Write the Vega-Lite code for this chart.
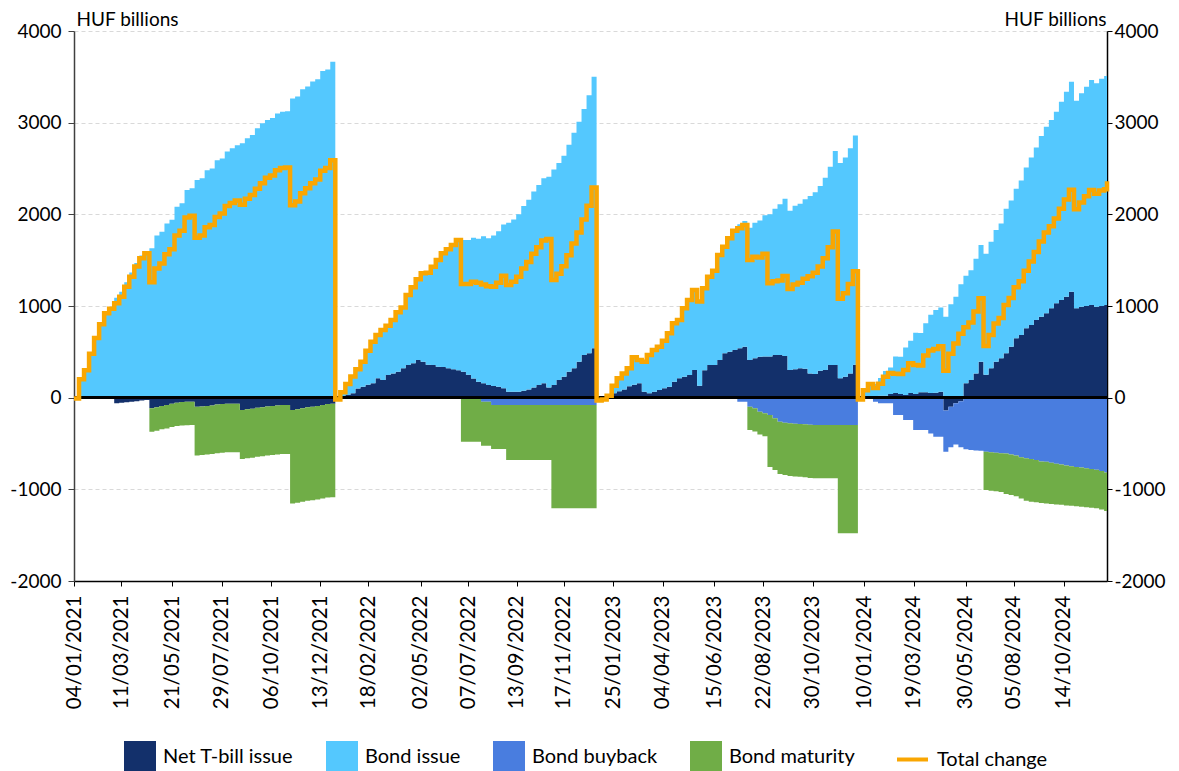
{
  "$schema": "https://vega.github.io/schema/vega-lite/v6.json",
  "width": 1033,
  "height": 550,
  "autosize": {"type": "none"},
  "padding": {"left": 74, "top": 31, "right": 72, "bottom": 190},
  "config": {
    "font": "Lato",
    "view": {"stroke": null},
    "axis": {"labelFont": "Lato", "titleFont": "Lato", "labelColor": "#000", "titleColor": "#000"},
    "legend": {"labelFont": "Lato"}
  },
  "data": {"values": [
    {"date":"2021-01-04","bill":-10,"issue":0,"buyback":0,"maturity":0,"total":-10},
    {"date":"2021-01-11","bill":0,"issue":200,"buyback":0,"maturity":0,"total":200},
    {"date":"2021-01-18","bill":0,"issue":300,"buyback":0,"maturity":0,"total":300},
    {"date":"2021-01-25","bill":0,"issue":480,"buyback":0,"maturity":0,"total":480},
    {"date":"2021-02-01","bill":0,"issue":650,"buyback":0,"maturity":0,"total":650},
    {"date":"2021-02-08","bill":0,"issue":800,"buyback":0,"maturity":0,"total":800},
    {"date":"2021-02-15","bill":0,"issue":920,"buyback":0,"maturity":0,"total":920},
    {"date":"2021-02-22","bill":0,"issue":970,"buyback":0,"maturity":0,"total":970},
    {"date":"2021-03-01","bill":-60,"issue":1090,"buyback":0,"maturity":0,"total":1030},
    {"date":"2021-03-08","bill":-55,"issue":1155,"buyback":0,"maturity":0,"total":1100},
    {"date":"2021-03-15","bill":-50,"issue":1260,"buyback":0,"maturity":0,"total":1210},
    {"date":"2021-03-22","bill":-45,"issue":1365,"buyback":0,"maturity":0,"total":1320},
    {"date":"2021-03-29","bill":-40,"issue":1470,"buyback":0,"maturity":0,"total":1430},
    {"date":"2021-04-05","bill":-30,"issue":1550,"buyback":0,"maturity":0,"total":1520},
    {"date":"2021-04-12","bill":-25,"issue":1600,"buyback":0,"maturity":0,"total":1575},
    {"date":"2021-04-19","bill":-116,"issue":1630,"buyback":0,"maturity":-255,"total":1260},
    {"date":"2021-04-26","bill":-105,"issue":1770,"buyback":0,"maturity":-255,"total":1410},
    {"date":"2021-05-03","bill":-90,"issue":1810,"buyback":0,"maturity":-255,"total":1465},
    {"date":"2021-05-10","bill":-80,"issue":1900,"buyback":0,"maturity":-255,"total":1565},
    {"date":"2021-05-17","bill":-65,"issue":1940,"buyback":0,"maturity":-255,"total":1620},
    {"date":"2021-05-24","bill":-55,"issue":2084,"buyback":0,"maturity":-255,"total":1770},
    {"date":"2021-05-31","bill":-48,"issue":2120,"buyback":0,"maturity":-255,"total":1820},
    {"date":"2021-06-07","bill":-45,"issue":2265,"buyback":0,"maturity":-255,"total":1965},
    {"date":"2021-06-14","bill":-44,"issue":2285,"buyback":0,"maturity":-255,"total":1985},
    {"date":"2021-06-21","bill":-100,"issue":2375,"buyback":0,"maturity":-530,"total":1745},
    {"date":"2021-06-28","bill":-95,"issue":2395,"buyback":0,"maturity":-530,"total":1770},
    {"date":"2021-07-05","bill":-90,"issue":2480,"buyback":0,"maturity":-530,"total":1860},
    {"date":"2021-07-12","bill":-85,"issue":2500,"buyback":0,"maturity":-530,"total":1885},
    {"date":"2021-07-19","bill":-75,"issue":2590,"buyback":0,"maturity":-530,"total":1970},
    {"date":"2021-07-26","bill":-70,"issue":2610,"buyback":0,"maturity":-530,"total":2010},
    {"date":"2021-08-02","bill":-66,"issue":2685,"buyback":0,"maturity":-530,"total":2090},
    {"date":"2021-08-09","bill":-65,"issue":2720,"buyback":0,"maturity":-530,"total":2125},
    {"date":"2021-08-16","bill":-65,"issue":2755,"buyback":0,"maturity":-530,"total":2150},
    {"date":"2021-08-23","bill":-135,"issue":2775,"buyback":0,"maturity":-535,"total":2105},
    {"date":"2021-08-30","bill":-125,"issue":2830,"buyback":0,"maturity":-535,"total":2170},
    {"date":"2021-09-06","bill":-120,"issue":2865,"buyback":0,"maturity":-535,"total":2210},
    {"date":"2021-09-13","bill":-110,"issue":2940,"buyback":0,"maturity":-535,"total":2280},
    {"date":"2021-09-20","bill":-105,"issue":2995,"buyback":0,"maturity":-535,"total":2340},
    {"date":"2021-09-27","bill":-95,"issue":3030,"buyback":0,"maturity":-535,"total":2400},
    {"date":"2021-10-04","bill":-90,"issue":3050,"buyback":0,"maturity":-535,"total":2425},
    {"date":"2021-10-11","bill":-85,"issue":3100,"buyback":0,"maturity":-535,"total":2480},
    {"date":"2021-10-18","bill":-80,"issue":3120,"buyback":0,"maturity":-535,"total":2505},
    {"date":"2021-10-25","bill":-80,"issue":3125,"buyback":0,"maturity":-535,"total":2510},
    {"date":"2021-11-01","bill":-135,"issue":3265,"buyback":0,"maturity":-1020,"total":2100},
    {"date":"2021-11-08","bill":-125,"issue":3285,"buyback":0,"maturity":-1020,"total":2140},
    {"date":"2021-11-15","bill":-115,"issue":3365,"buyback":0,"maturity":-1020,"total":2230},
    {"date":"2021-11-22","bill":-105,"issue":3395,"buyback":0,"maturity":-1020,"total":2285},
    {"date":"2021-11-29","bill":-100,"issue":3450,"buyback":0,"maturity":-1020,"total":2340},
    {"date":"2021-12-06","bill":-90,"issue":3475,"buyback":0,"maturity":-1020,"total":2380},
    {"date":"2021-12-13","bill":-80,"issue":3565,"buyback":0,"maturity":-1020,"total":2475},
    {"date":"2021-12-20","bill":-70,"issue":3580,"buyback":0,"maturity":-1020,"total":2505},
    {"date":"2021-12-27","bill":-65,"issue":3665,"buyback":0,"maturity":-1020,"total":2590},
    {"date":"2022-01-03","bill":-20,"issue":0,"buyback":0,"maturity":0,"total":-20},
    {"date":"2022-01-10","bill":10,"issue":50,"buyback":0,"maturity":0,"total":60},
    {"date":"2022-01-17","bill":30,"issue":120,"buyback":0,"maturity":0,"total":150},
    {"date":"2022-01-24","bill":47,"issue":183,"buyback":0,"maturity":0,"total":230},
    {"date":"2022-01-31","bill":100,"issue":210,"buyback":0,"maturity":0,"total":310},
    {"date":"2022-02-07","bill":120,"issue":273,"buyback":0,"maturity":0,"total":393},
    {"date":"2022-02-14","bill":140,"issue":373,"buyback":0,"maturity":0,"total":513},
    {"date":"2022-02-21","bill":156,"issue":455,"buyback":0,"maturity":0,"total":611},
    {"date":"2022-02-28","bill":211,"issue":473,"buyback":0,"maturity":0,"total":684},
    {"date":"2022-03-07","bill":193,"issue":545,"buyback":0,"maturity":0,"total":738},
    {"date":"2022-03-14","bill":247,"issue":538,"buyback":0,"maturity":0,"total":785},
    {"date":"2022-03-21","bill":265,"issue":582,"buyback":0,"maturity":0,"total":847},
    {"date":"2022-03-28","bill":284,"issue":647,"buyback":0,"maturity":0,"total":931},
    {"date":"2022-04-04","bill":320,"issue":665,"buyback":0,"maturity":0,"total":985},
    {"date":"2022-04-11","bill":356,"issue":764,"buyback":0,"maturity":0,"total":1120},
    {"date":"2022-04-18","bill":375,"issue":829,"buyback":0,"maturity":0,"total":1204},
    {"date":"2022-04-25","bill":411,"issue":880,"buyback":0,"maturity":0,"total":1291},
    {"date":"2022-05-02","bill":393,"issue":963,"buyback":0,"maturity":0,"total":1356},
    {"date":"2022-05-09","bill":360,"issue":1004,"buyback":0,"maturity":0,"total":1364},
    {"date":"2022-05-16","bill":356,"issue":1073,"buyback":0,"maturity":0,"total":1429},
    {"date":"2022-05-23","bill":338,"issue":1164,"buyback":0,"maturity":0,"total":1502},
    {"date":"2022-05-30","bill":335,"issue":1240,"buyback":0,"maturity":0,"total":1575},
    {"date":"2022-06-06","bill":320,"issue":1298,"buyback":0,"maturity":0,"total":1618},
    {"date":"2022-06-13","bill":309,"issue":1356,"buyback":0,"maturity":0,"total":1665},
    {"date":"2022-06-20","bill":300,"issue":1420,"buyback":0,"maturity":0,"total":1720},
    {"date":"2022-06-27","bill":284,"issue":1436,"buyback":0,"maturity":-480,"total":1240},
    {"date":"2022-07-04","bill":250,"issue":1470,"buyback":0,"maturity":-480,"total":1240},
    {"date":"2022-07-11","bill":210,"issue":1535,"buyback":0,"maturity":-480,"total":1265},
    {"date":"2022-07-18","bill":175,"issue":1560,"buyback":0,"maturity":-480,"total":1255},
    {"date":"2022-07-25","bill":156,"issue":1604,"buyback":-45,"maturity":-480,"total":1235},
    {"date":"2022-08-01","bill":138,"issue":1602,"buyback":-45,"maturity":-480,"total":1215},
    {"date":"2022-08-08","bill":127,"issue":1643,"buyback":-80,"maturity":-480,"total":1210},
    {"date":"2022-08-15","bill":120,"issue":1695,"buyback":-80,"maturity":-480,"total":1255},
    {"date":"2022-08-22","bill":102,"issue":1788,"buyback":-80,"maturity":-480,"total":1330},
    {"date":"2022-08-29","bill":65,"issue":1844,"buyback":-80,"maturity":-600,"total":1229},
    {"date":"2022-09-05","bill":65,"issue":1880,"buyback":-80,"maturity":-600,"total":1265},
    {"date":"2022-09-12","bill":65,"issue":1935,"buyback":-80,"maturity":-600,"total":1320},
    {"date":"2022-09-19","bill":75,"issue":2015,"buyback":-80,"maturity":-600,"total":1410},
    {"date":"2022-09-26","bill":90,"issue":2070,"buyback":-80,"maturity":-600,"total":1480},
    {"date":"2022-10-03","bill":110,"issue":2140,"buyback":-80,"maturity":-600,"total":1570},
    {"date":"2022-10-10","bill":138,"issue":2182,"buyback":-80,"maturity":-600,"total":1640},
    {"date":"2022-10-17","bill":156,"issue":2239,"buyback":-80,"maturity":-600,"total":1715},
    {"date":"2022-10-24","bill":110,"issue":2300,"buyback":-80,"maturity":-600,"total":1730},
    {"date":"2022-10-31","bill":138,"issue":2352,"buyback":-80,"maturity":-1127,"total":1283},
    {"date":"2022-11-07","bill":193,"issue":2367,"buyback":-80,"maturity":-1127,"total":1353},
    {"date":"2022-11-14","bill":229,"issue":2411,"buyback":-80,"maturity":-1127,"total":1433},
    {"date":"2022-11-21","bill":284,"issue":2476,"buyback":-80,"maturity":-1127,"total":1553},
    {"date":"2022-11-28","bill":320,"issue":2570,"buyback":-80,"maturity":-1127,"total":1683},
    {"date":"2022-12-05","bill":393,"issue":2617,"buyback":-80,"maturity":-1127,"total":1803},
    {"date":"2022-12-12","bill":465,"issue":2685,"buyback":-80,"maturity":-1127,"total":1943},
    {"date":"2022-12-19","bill":484,"issue":2816,"buyback":-80,"maturity":-1127,"total":2093},
    {"date":"2022-12-26","bill":540,"issue":2960,"buyback":-80,"maturity":-1127,"total":2293},
    {"date":"2023-01-02","bill":-30,"issue":0,"buyback":0,"maturity":0,"total":-30},
    {"date":"2023-01-09","bill":-20,"issue":0,"buyback":0,"maturity":0,"total":-20},
    {"date":"2023-01-16","bill":10,"issue":10,"buyback":0,"maturity":0,"total":20},
    {"date":"2023-01-23","bill":47,"issue":83,"buyback":0,"maturity":0,"total":130},
    {"date":"2023-01-30","bill":70,"issue":141,"buyback":0,"maturity":0,"total":211},
    {"date":"2023-02-06","bill":90,"issue":175,"buyback":0,"maturity":0,"total":265},
    {"date":"2023-02-13","bill":125,"issue":195,"buyback":0,"maturity":0,"total":320},
    {"date":"2023-02-20","bill":140,"issue":300,"buyback":0,"maturity":0,"total":440},
    {"date":"2023-02-27","bill":156,"issue":254,"buyback":0,"maturity":0,"total":410},
    {"date":"2023-03-06","bill":65,"issue":328,"buyback":0,"maturity":0,"total":393},
    {"date":"2023-03-13","bill":47,"issue":418,"buyback":0,"maturity":0,"total":465},
    {"date":"2023-03-20","bill":65,"issue":455,"buyback":0,"maturity":0,"total":520},
    {"date":"2023-03-27","bill":84,"issue":472,"buyback":0,"maturity":0,"total":556},
    {"date":"2023-04-03","bill":102,"issue":520,"buyback":0,"maturity":0,"total":622},
    {"date":"2023-04-10","bill":120,"issue":582,"buyback":0,"maturity":0,"total":702},
    {"date":"2023-04-17","bill":175,"issue":636,"buyback":0,"maturity":0,"total":811},
    {"date":"2023-04-24","bill":211,"issue":636,"buyback":0,"maturity":0,"total":847},
    {"date":"2023-05-01","bill":229,"issue":746,"buyback":0,"maturity":0,"total":975},
    {"date":"2023-05-08","bill":247,"issue":818,"buyback":0,"maturity":0,"total":1065},
    {"date":"2023-05-15","bill":302,"issue":872,"buyback":0,"maturity":0,"total":1174},
    {"date":"2023-05-22","bill":130,"issue":920,"buyback":0,"maturity":0,"total":1050},
    {"date":"2023-05-29","bill":300,"issue":893,"buyback":0,"maturity":0,"total":1193},
    {"date":"2023-06-05","bill":356,"issue":964,"buyback":0,"maturity":0,"total":1320},
    {"date":"2023-06-12","bill":356,"issue":1029,"buyback":0,"maturity":0,"total":1385},
    {"date":"2023-06-19","bill":411,"issue":1145,"buyback":0,"maturity":0,"total":1556},
    {"date":"2023-06-26","bill":484,"issue":1163,"buyback":0,"maturity":0,"total":1647},
    {"date":"2023-07-03","bill":502,"issue":1236,"buyback":0,"maturity":0,"total":1738},
    {"date":"2023-07-10","bill":520,"issue":1302,"buyback":0,"maturity":0,"total":1822},
    {"date":"2023-07-17","bill":538,"issue":1353,"buyback":-44,"maturity":0,"total":1847},
    {"date":"2023-07-24","bill":556,"issue":1372,"buyback":-44,"maturity":0,"total":1884},
    {"date":"2023-07-31","bill":411,"issue":1444,"buyback":-98,"maturity":-255,"total":1502},
    {"date":"2023-08-07","bill":429,"issue":1479,"buyback":-115,"maturity":-255,"total":1538},
    {"date":"2023-08-14","bill":447,"issue":1486,"buyback":-153,"maturity":-250,"total":1530},
    {"date":"2023-08-21","bill":450,"issue":1540,"buyback":-171,"maturity":-250,"total":1569},
    {"date":"2023-08-28","bill":450,"issue":1552,"buyback":-190,"maturity":-565,"total":1247},
    {"date":"2023-09-04","bill":465,"issue":1595,"buyback":-225,"maturity":-565,"total":1270},
    {"date":"2023-09-11","bill":465,"issue":1645,"buyback":-262,"maturity":-570,"total":1278},
    {"date":"2023-09-18","bill":454,"issue":1716,"buyback":-273,"maturity":-570,"total":1327},
    {"date":"2023-09-25","bill":302,"issue":1738,"buyback":-280,"maturity":-575,"total":1185},
    {"date":"2023-10-02","bill":310,"issue":1785,"buyback":-285,"maturity":-575,"total":1235},
    {"date":"2023-10-09","bill":320,"issue":1795,"buyback":-287,"maturity":-575,"total":1253},
    {"date":"2023-10-16","bill":315,"issue":1850,"buyback":-290,"maturity":-578,"total":1297},
    {"date":"2023-10-23","bill":265,"issue":1935,"buyback":-295,"maturity":-580,"total":1325},
    {"date":"2023-10-30","bill":258,"issue":1982,"buyback":-298,"maturity":-580,"total":1362},
    {"date":"2023-11-06","bill":294,"issue":2016,"buyback":-298,"maturity":-580,"total":1432},
    {"date":"2023-11-13","bill":302,"issue":2098,"buyback":-298,"maturity":-580,"total":1522},
    {"date":"2023-11-20","bill":356,"issue":2164,"buyback":-298,"maturity":-580,"total":1642},
    {"date":"2023-11-27","bill":356,"issue":2334,"buyback":-298,"maturity":-580,"total":1812},
    {"date":"2023-12-04","bill":211,"issue":2349,"buyback":-298,"maturity":-1182,"total":1080},
    {"date":"2023-12-11","bill":229,"issue":2391,"buyback":-298,"maturity":-1182,"total":1140},
    {"date":"2023-12-18","bill":265,"issue":2455,"buyback":-298,"maturity":-1182,"total":1240},
    {"date":"2023-12-25","bill":360,"issue":2500,"buyback":-298,"maturity":-1182,"total":1380},
    {"date":"2024-01-01","bill":-20,"issue":0,"buyback":0,"maturity":0,"total":-20},
    {"date":"2024-01-08","bill":0,"issue":80,"buyback":0,"maturity":0,"total":80},
    {"date":"2024-01-15","bill":0,"issue":150,"buyback":0,"maturity":0,"total":150},
    {"date":"2024-01-22","bill":10,"issue":140,"buyback":-44,"maturity":0,"total":106},
    {"date":"2024-01-29","bill":20,"issue":195,"buyback":-62,"maturity":0,"total":153},
    {"date":"2024-02-05","bill":20,"issue":270,"buyback":-62,"maturity":0,"total":228},
    {"date":"2024-02-12","bill":40,"issue":290,"buyback":-62,"maturity":0,"total":268},
    {"date":"2024-02-19","bill":50,"issue":400,"buyback":-189,"maturity":0,"total":261},
    {"date":"2024-02-26","bill":40,"issue":407,"buyback":-189,"maturity":0,"total":258},
    {"date":"2024-03-04","bill":30,"issue":516,"buyback":-244,"maturity":0,"total":302},
    {"date":"2024-03-11","bill":50,"issue":570,"buyback":-244,"maturity":0,"total":376},
    {"date":"2024-03-18","bill":40,"issue":669,"buyback":-353,"maturity":0,"total":356},
    {"date":"2024-03-25","bill":60,"issue":645,"buyback":-353,"maturity":0,"total":352},
    {"date":"2024-04-01","bill":60,"issue":753,"buyback":-353,"maturity":0,"total":460},
    {"date":"2024-04-08","bill":50,"issue":855,"buyback":-390,"maturity":0,"total":515},
    {"date":"2024-04-15","bill":55,"issue":901,"buyback":-425,"maturity":0,"total":531},
    {"date":"2024-04-22","bill":65,"issue":920,"buyback":-425,"maturity":0,"total":560},
    {"date":"2024-04-29","bill":-140,"issue":884,"buyback":-450,"maturity":0,"total":294},
    {"date":"2024-05-06","bill":-100,"issue":1020,"buyback":-440,"maturity":0,"total":480},
    {"date":"2024-05-13","bill":-60,"issue":1100,"buyback":-450,"maturity":0,"total":590},
    {"date":"2024-05-20","bill":-40,"issue":1237,"buyback":-500,"maturity":0,"total":697},
    {"date":"2024-05-27","bill":156,"issue":1174,"buyback":-563,"maturity":0,"total":767},
    {"date":"2024-06-03","bill":193,"issue":1197,"buyback":-571,"maturity":0,"total":819},
    {"date":"2024-06-10","bill":265,"issue":1250,"buyback":-575,"maturity":0,"total":940},
    {"date":"2024-06-17","bill":393,"issue":1272,"buyback":-580,"maturity":0,"total":1085},
    {"date":"2024-06-24","bill":250,"issue":1320,"buyback":-589,"maturity":-418,"total":563},
    {"date":"2024-07-01","bill":320,"issue":1380,"buyback":-595,"maturity":-420,"total":685},
    {"date":"2024-07-08","bill":393,"issue":1437,"buyback":-600,"maturity":-420,"total":810},
    {"date":"2024-07-15","bill":429,"issue":1471,"buyback":-605,"maturity":-425,"total":870},
    {"date":"2024-07-22","bill":484,"issue":1576,"buyback":-610,"maturity":-440,"total":1010},
    {"date":"2024-07-29","bill":556,"issue":1594,"buyback":-620,"maturity":-442,"total":1088},
    {"date":"2024-08-05","bill":647,"issue":1633,"buyback":-630,"maturity":-445,"total":1205},
    {"date":"2024-08-12","bill":684,"issue":1686,"buyback":-650,"maturity":-450,"total":1270},
    {"date":"2024-08-19","bill":756,"issue":1754,"buyback":-660,"maturity":-465,"total":1385},
    {"date":"2024-08-26","bill":793,"issue":1827,"buyback":-670,"maturity":-465,"total":1485},
    {"date":"2024-09-02","bill":847,"issue":1883,"buyback":-680,"maturity":-460,"total":1590},
    {"date":"2024-09-09","bill":884,"issue":1971,"buyback":-695,"maturity":-455,"total":1705},
    {"date":"2024-09-16","bill":920,"issue":2036,"buyback":-700,"maturity":-455,"total":1801},
    {"date":"2024-09-23","bill":975,"issue":2054,"buyback":-710,"maturity":-450,"total":1869},
    {"date":"2024-09-30","bill":1029,"issue":2091,"buyback":-720,"maturity":-445,"total":1955},
    {"date":"2024-10-07","bill":1065,"issue":2164,"buyback":-730,"maturity":-437,"total":2062},
    {"date":"2024-10-14","bill":1102,"issue":2236,"buyback":-740,"maturity":-435,"total":2163},
    {"date":"2024-10-21","bill":1156,"issue":2291,"buyback":-748,"maturity":-432,"total":2267},
    {"date":"2024-10-28","bill":975,"issue":2265,"buyback":-755,"maturity":-430,"total":2055},
    {"date":"2024-11-04","bill":993,"issue":2327,"buyback":-762,"maturity":-428,"total":2130},
    {"date":"2024-11-11","bill":1000,"issue":2393,"buyback":-770,"maturity":-425,"total":2198},
    {"date":"2024-11-18","bill":1011,"issue":2454,"buyback":-778,"maturity":-422,"total":2265},
    {"date":"2024-11-25","bill":993,"issue":2436,"buyback":-785,"maturity":-420,"total":2224},
    {"date":"2024-12-02","bill":1000,"issue":2480,"buyback":-800,"maturity":-420,"total":2260},
    {"date":"2024-12-09","bill":1011,"issue":2499,"buyback":-815,"maturity":-420,"total":2275},
    {"date":"2024-12-13","bill":1011,"issue":2559,"buyback":-825,"maturity":-420,"total":2360}
  ]},
  "layer": [
    {
      "layer": [
        {
          "transform": [{"fold": ["bill", "issue", "buyback", "maturity"], "as": ["series", "value"]}],
          "mark": {"type": "area", "interpolate": "step-after"},
          "encoding": {
            "x": {
              "field": "date", "type": "temporal",
              "scale": {"type": "utc", "domain": [{"year": 2021, "month": 1, "date": 4, "utc": true}, {"year": 2024, "month": 12, "date": 13, "utc": true}]},
              "axis": {
                "orient": "bottom",
                "values": [
                  {"year": 2021, "month": 1, "date": 4, "utc": true},
                  {"year": 2021, "month": 3, "date": 11, "utc": true},
                  {"year": 2021, "month": 5, "date": 21, "utc": true},
                  {"year": 2021, "month": 7, "date": 29, "utc": true},
                  {"year": 2021, "month": 10, "date": 6, "utc": true},
                  {"year": 2021, "month": 12, "date": 13, "utc": true},
                  {"year": 2022, "month": 2, "date": 18, "utc": true},
                  {"year": 2022, "month": 5, "date": 2, "utc": true},
                  {"year": 2022, "month": 7, "date": 7, "utc": true},
                  {"year": 2022, "month": 9, "date": 13, "utc": true},
                  {"year": 2022, "month": 11, "date": 17, "utc": true},
                  {"year": 2023, "month": 1, "date": 25, "utc": true},
                  {"year": 2023, "month": 4, "date": 4, "utc": true},
                  {"year": 2023, "month": 6, "date": 15, "utc": true},
                  {"year": 2023, "month": 8, "date": 22, "utc": true},
                  {"year": 2023, "month": 10, "date": 30, "utc": true},
                  {"year": 2024, "month": 1, "date": 10, "utc": true},
                  {"year": 2024, "month": 3, "date": 19, "utc": true},
                  {"year": 2024, "month": 5, "date": 30, "utc": true},
                  {"year": 2024, "month": 8, "date": 5, "utc": true},
                  {"year": 2024, "month": 10, "date": 14, "utc": true}
                ],
                "labelExpr": "utcFormat(datum.value, '%d/%m/%Y')",
                "labelAngle": -90, "labelFontSize": 20.5, "labelPadding": 9,
                "labelOverlap": false, "labelFlush": false, "labelBound": false,
                "tickSize": 5, "tickColor": "#000", "domainColor": "#000", "domainWidth": 1.5,
                "grid": false, "title": null
              }
            },
            "y": {
              "field": "value", "type": "quantitative", "stack": "zero",
              "scale": {"domain": [-2000, 4000], "nice": false},
              "axis": {
                "orient": "left",
                "values": [-2000, -1000, 0, 1000, 2000, 3000, 4000],
                "labelExpr": "'' + datum.value",
                "labelFontSize": 19, "labelPadding": 7,
                "tickSize": 6, "tickColor": "#404040", "domainColor": "#404040", "domainWidth": 1.5,
                "grid": true, "gridDash": [4, 3], "gridColor": "#d9d9d9", "gridWidth": 1,
                "title": "HUF billions", "titleAngle": 0, "titleAlign": "left", "titleBaseline": "alphabetic",
                "titleX": 2, "titleY": -6, "titleFontSize": 19, "titleFontWeight": "normal"
              }
            },
            "fill": {
              "field": "series", "type": "nominal",
              "scale": {"domain": ["bill", "issue", "buyback", "maturity"], "range": ["#13306B", "#54C8FE", "#497DDF", "#70AD47"]},
              "legend": {
                "orient": "none", "legendX": 50, "legendY": 710, "direction": "horizontal",
                "title": null, "padding": 0,
                "labelFontSize": 20, "labelColor": "#000", "labelOffset": 7,
                "symbolSize": 1024, "symbolType": "square", "symbolStrokeWidth": 0, "symbolOpacity": 1,
                "columnPadding": 32,
                "labelExpr": "datum.label == 'bill' ? 'Net T-bill issue' : datum.label == 'issue' ? 'Bond issue' : datum.label == 'buyback' ? 'Bond buyback' : 'Bond maturity'"
              }
            },
            "order": {"field": "series", "sort": "ascending"}
          }
        },
        {
          "mark": {"type": "rule", "color": "#000", "strokeWidth": 2},
          "encoding": {"y": {"datum": 0}}
        }
      ]
    },
    {
      "mark": {"type": "line", "interpolate": "step-after", "strokeWidth": 4.5},
      "encoding": {
        "x": {
          "field": "date", "type": "temporal",
          "scale": {"type": "utc", "domain": [{"year": 2021, "month": 1, "date": 4, "utc": true}, {"year": 2024, "month": 12, "date": 13, "utc": true}]}
        },
        "y": {
          "field": "total", "type": "quantitative",
          "scale": {"domain": [-2000, 4000], "nice": false},
          "axis": {
            "orient": "right",
            "values": [-2000, -1000, 0, 1000, 2000, 3000, 4000],
            "labelExpr": "'' + datum.value",
            "labelFontSize": 19, "labelPadding": 2,
            "tickSize": 5, "tickColor": "#000", "domainColor": "#000", "domainWidth": 1.5,
            "grid": false,
            "title": "HUF billions", "titleAngle": 0, "titleAlign": "right", "titleBaseline": "alphabetic",
            "titleX": -1, "titleY": -6, "titleFontSize": 19, "titleFontWeight": "normal"
          }
        },
        "stroke": {
          "datum": "Total change",
          "scale": {"domain": ["Total change"], "range": ["#F9A602"]},
          "legend": {
            "orient": "none", "legendX": 821, "legendY": 711, "direction": "horizontal",
            "title": null, "padding": 0,
            "labelFontSize": 20, "labelColor": "#000", "labelOffset": 7,
            "symbolType": "stroke", "symbolSize": 961, "symbolStrokeWidth": 4, "symbolOpacity": 1
          }
        }
      }
    }
  ],
  "resolve": {"scale": {"y": "independent"}}
}
